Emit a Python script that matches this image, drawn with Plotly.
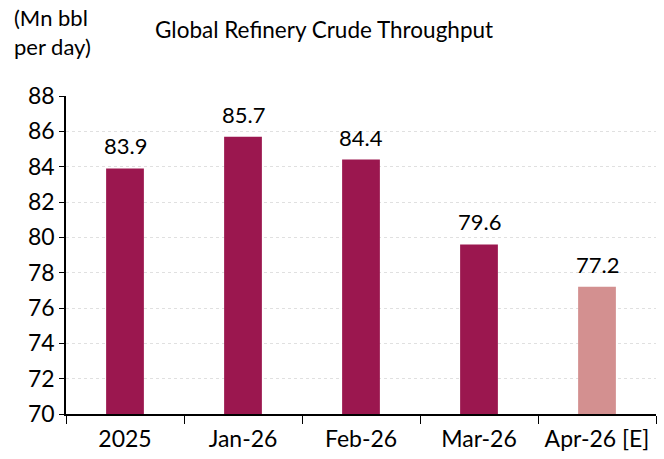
import plotly.graph_objects as go

categories = ["2025", "Jan-26", "Feb-26", "Mar-26", "Apr-26 [E]"]
values = [83.9, 85.7, 84.4, 79.6, 77.2]
bar_colors = ["#9b174f", "#9b174f", "#9b174f", "#9b174f", "#d39090"]
y_ticks = [70, 72, 74, 76, 78, 80, 82, 84, 86, 88]

W, H = 664, 459
L, R, T, B = 66, 8, 96, 45
pw, ph = W - L - R, H - T - B

fig = go.Figure()
fig.add_trace(go.Bar(
    x=categories, y=values,
    marker=dict(color=bar_colors, line=dict(width=0)),
    width=0.32,
    hoverinfo="x+y",
))

# value labels above the bars (category index positions)
labels = [
    dict(x=i, y=v, text=f"{v:.1f}", showarrow=False, xref="x", yref="y",
         yanchor="bottom", yshift=7, font=dict(size=22))
    for i, v in enumerate(values)
]

fig.update_layout(
    width=W, height=H,
    margin=dict(l=L, r=R, t=T, b=B),
    plot_bgcolor="white", paper_bgcolor="white",
    font=dict(family="Lato", size=22, color="#000000"),
    showlegend=False,
    annotations=labels + [
        dict(text="(Mn bbl<br>per day)", xref="paper", yref="paper",
             x=(12 - L) / pw, y=1 + (T - 2) / ph,
             showarrow=False, xanchor="left", yanchor="top",
             align="left", font=dict(size=22)),
        dict(text="Global Refinery Crude Throughput", xref="paper", yref="paper",
             x=(153 - L) / pw, y=1 + (T - 14) / ph,
             showarrow=False, xanchor="left", yanchor="top",
             font=dict(size=22.5)),
    ],
)

fig.update_yaxes(
    range=[70, 88], tickvals=y_ticks,
    showgrid=True, gridcolor="#e0e0e0", griddash="dot", gridwidth=1,
    showline=True, linecolor="#000000", linewidth=1.5,
    ticks="outside", ticklen=5, tickcolor="#000000",
    tickfont=dict(size=23), zeroline=False,
)
fig.update_xaxes(
    type="category", range=[-0.5, len(categories) - 0.5],
    showline=True, linecolor="#000000", linewidth=1.5,
    ticks="outside", ticklen=8, tickcolor="#000000", tickson="boundaries",
    tickfont=dict(size=23), ticklabelstandoff=4, tickangle=0, showgrid=False,
)

fig.write_html("out.html", config={"displayModeBar": False},
               post_script="document.body.style.margin='0px';")
